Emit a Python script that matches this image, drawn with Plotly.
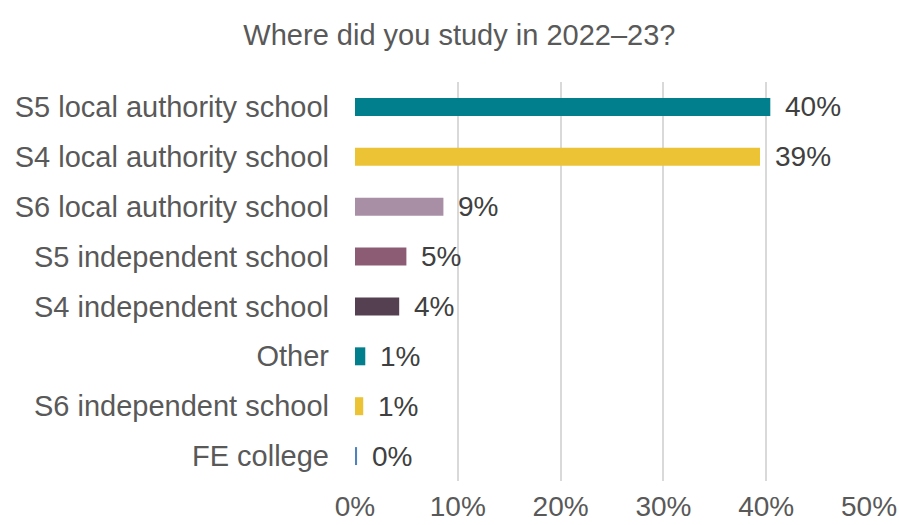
import plotly.graph_objects as go

# Survey responses: where students studied in 2022–23 (share of respondents)
categories = [
    "S5 local authority school",
    "S4 local authority school",
    "S6 local authority school",
    "S5 independent school",
    "S4 independent school",
    "Other",
    "S6 independent school",
    "FE college",
]
shares = [0.404, 0.394, 0.086, 0.050, 0.043, 0.010, 0.008, 0.002]
bar_colors = [
    "#027F8C", "#EBC334", "#A88FA6", "#8C5C74",
    "#544050", "#027F8C", "#EBC334", "#4F81BD",
]
x_ticks = [0, 0.1, 0.2, 0.3, 0.4, 0.5]
x_tick_labels = ["0%", "10%", "20%", "30%", "40%", "50%"]

FONT = "Liberation Sans, Arial, sans-serif"

fig = go.Figure(
    go.Bar(
        x=shares,
        y=categories,
        orientation="h",
        marker=dict(color=bar_colors, line=dict(width=0)),
        hoverinfo="skip",
    )
)

# Value labels to the right of each bar
for cat, val in zip(categories, shares):
    fig.add_annotation(
        x=val, y=cat, xref="x", yref="y",
        text=f"{val:.0%}",
        showarrow=False, xanchor="left", yanchor="middle",
        xshift=13,
        font=dict(family=FONT, size=28, color="#404040"),
    )

fig.update_layout(
    width=899, height=525,
    margin=dict(l=355, r=30, t=82, b=44, autoexpand=False),
    paper_bgcolor="white", plot_bgcolor="white",
    bargap=0.64,
    showlegend=False,
    title=dict(
        text="Where did you study in 2022–23?",
        font=dict(family=FONT, size=29, color="#595959"),
        xref="container", x=0.511, xanchor="center",
        yref="container", y=0.933, yanchor="middle",
    ),
    font=dict(family=FONT, color="#595959"),
)

fig.update_xaxes(
    range=[0, 0.5],
    tickvals=x_ticks, ticktext=x_tick_labels,
    showgrid=True, gridcolor="#D9D9D9", gridwidth=1.5,
    zeroline=False, showline=False,
    ticks="", ticklabelstandoff=6, automargin=False,
    tickfont=dict(family=FONT, size=28, color="#595959"),
    fixedrange=True,
)
fig.update_yaxes(
    autorange="reversed",
    showgrid=False, zeroline=False, showline=False,
    ticks="", ticklabelstandoff=25, automargin=False,
    tickfont=dict(family=FONT, size=29, color="#595959"),
    fixedrange=True,
)

fig.write_html("out.html")
